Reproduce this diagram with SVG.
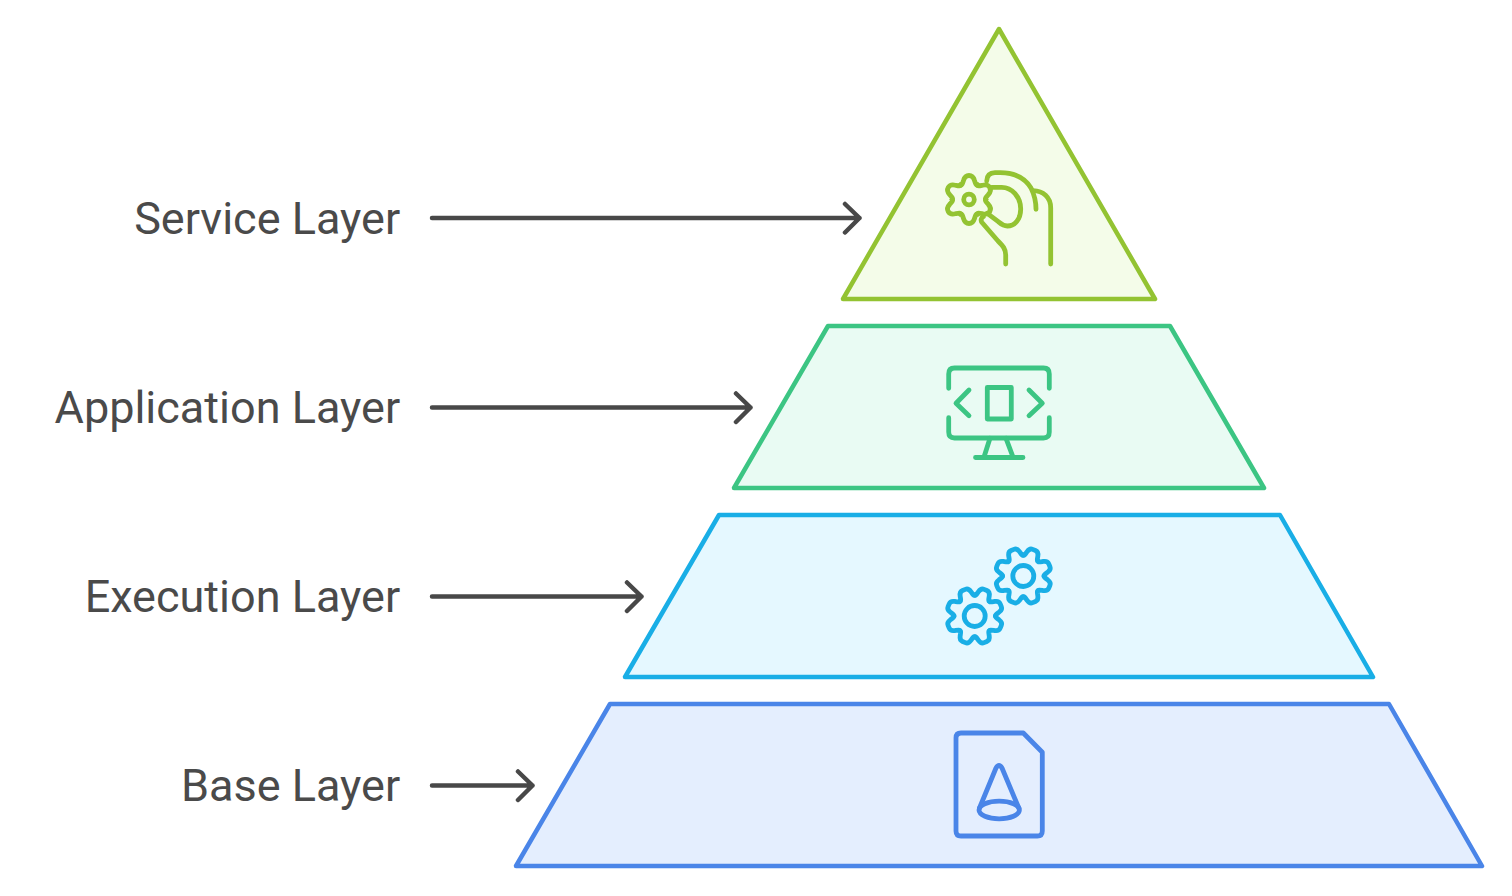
<svg xmlns="http://www.w3.org/2000/svg" xmlns:xlink="http://www.w3.org/1999/xlink" width="1512" height="896" viewBox="0 0 1512 896">
<style>
.s{stroke-width:4.500;stroke-linecap:round;stroke-linejoin:round}
.i{fill:none;stroke-width:4.800;stroke-linecap:round;stroke-linejoin:round}
.g1{stroke:#93c332}.f1{fill:#f4fce9}
.g2{stroke:#3cc583}.f2{fill:#e9fbf3}
.g3{stroke:#19aee6}.f3{fill:#e5f8ff}
.g4{stroke:#4a85e8}.f4{fill:#e4eefe}
.t{font-family:Roboto,"Liberation Sans",sans-serif;font-size:45px;fill:#4a4a4a;text-anchor:end}
.c{fill:none;stroke:#484848;stroke-width:4.500;stroke-linecap:round;stroke-linejoin:round}
</style>
<defs>
<path id="lobe6" d="M-8.500 -14.700C-7 -14 -6.500 -16 -5.500 -19Q-4 -24 0 -24Q4 -24 5.500 -19C6.500 -16 7 -14 8.500 -14.700"/>
<path id="lobe8" d="M-8.040 -19.400C-6.800 -18.900 -6.400 -21.500 -5.800 -24Q-4.800 -28.200 -1.500 -28.200L1.500 -28.200Q4.800 -28.200 5.800 -24C6.400 -21.500 6.800 -18.900 8.040 -19.400"/>
<g id="gear8">
<use xlink:href="#lobe8" href="#lobe8" transform="rotate(22.5)"/>
<use xlink:href="#lobe8" href="#lobe8" transform="rotate(67.5)"/>
<use xlink:href="#lobe8" href="#lobe8" transform="rotate(112.5)"/>
<use xlink:href="#lobe8" href="#lobe8" transform="rotate(157.5)"/>
<use xlink:href="#lobe8" href="#lobe8" transform="rotate(202.5)"/>
<use xlink:href="#lobe8" href="#lobe8" transform="rotate(247.5)"/>
<use xlink:href="#lobe8" href="#lobe8" transform="rotate(292.5)"/>
<use xlink:href="#lobe8" href="#lobe8" transform="rotate(337.5)"/>
<circle r="10.500"/>
</g>
</defs>
<g id="node-service">
<path class="s g1 f1" d="M999 29L1155 299L843 299Z"/>
<g class="i g1">
<g transform="translate(969 199.5)">
<use xlink:href="#lobe6" href="#lobe6"/>
<use xlink:href="#lobe6" href="#lobe6" transform="rotate(60)"/>
<use xlink:href="#lobe6" href="#lobe6" transform="rotate(120)"/>
<use xlink:href="#lobe6" href="#lobe6" transform="rotate(180)"/>
<use xlink:href="#lobe6" href="#lobe6" transform="rotate(240)"/>
<use xlink:href="#lobe6" href="#lobe6" transform="rotate(300)"/>
<circle r="5.300"/>
</g>
<path d="M986.7 181C987 175 990 172.7 995 172.7L1000 172.7C1015 172.7 1025 178 1031 188C1034 194 1036 201 1036 209.3"/>
<path d="M1033 190.7C1043 191 1050.7 197 1050.7 208L1050.7 264"/>
<path d="M991.7 187.3L1001.7 187.3C1012 187.3 1020.7 197 1020.7 209C1020.7 219 1015 226 1007.3 226C1003 226 1001 224 998.3 221.7L987.3 213.3"/>
<path d="M983.3 216.7C981 218 980.5 220.5 982 222.5L998 241C1003 246 1005.7 249 1005.7 255L1005.7 264"/>
</g>
</g>
<g id="node-application">
<path class="s g2 f2" d="M828 326L1170 326L1264 488L734 488Z"/>
<g class="i g2">
<path d="M948.7 388.3L948.700 374Q948.700 368 954.500 368L1043.500 368Q1049.300 368 1049.300 374L1049.300 388.3"/>
<path d="M948.700 417.700L948.700 432Q948.700 438 954.500 438L1043.500 438Q1049.300 438 1049.300 432L1049.300 417.700"/>
<path d="M969 390L956 403.300L969 415.700"/>
<path d="M1029 390L1042.300 403.300L1029 415.700"/>
<rect x="987.300" y="387.500" width="24" height="31.500"/>
<path d="M990 438.300L984 457M1006 438.300L1013 457M975.500 457.500L1023 457.500"/>
</g>
</g>
<g id="node-execution">
<path class="s g3 f3" d="M719 515L1280 515L1373 677L625 677Z"/>
<g class="i g3">
<use xlink:href="#gear8" href="#gear8" transform="translate(1023.300 576)"/>
<use xlink:href="#gear8" href="#gear8" transform="translate(974.700 616)"/>
</g>
</g>
<g id="node-base">
<path class="s g4 f4" d="M610 704L1389 704L1482 866L516 866Z"/>
<g class="i g4">
<path d="M1023.300 733L961 733Q956 733 956 738L956 831Q956 836 961 836L1037.300 836Q1042.300 836 1042.300 831L1042.300 752.300Z"/>
<ellipse cx="999.200" cy="810" rx="20.200" ry="8.800"/>
<path d="M979.500 808L996 768Q999 763 1002 768L1018.800 808"/>
</g>
</g>
<g id="labels">
<text class="t" x="400.200" y="234">Service Layer</text>
<text class="t" x="400.200" y="423">Application Layer</text>
<text class="t" x="400.200" y="612">Execution Layer</text>
<text class="t" x="400.200" y="801">Base Layer</text>
</g>
<g id="connectors">
<path class="c" d="M432 218L859.500 218M845 204L859.500 218L845 232.500"/>
<path class="c" d="M432 407.500L750.500 407.500M736 393.500L750.500 407.500L736 422"/>
<path class="c" d="M432 596.500L641.500 596.500M627 582.500L641.500 596.500L627 611"/>
<path class="c" d="M432 785.500L532.500 785.500M518 771.500L532.500 785.500L518 800"/>
</g>
</svg>
